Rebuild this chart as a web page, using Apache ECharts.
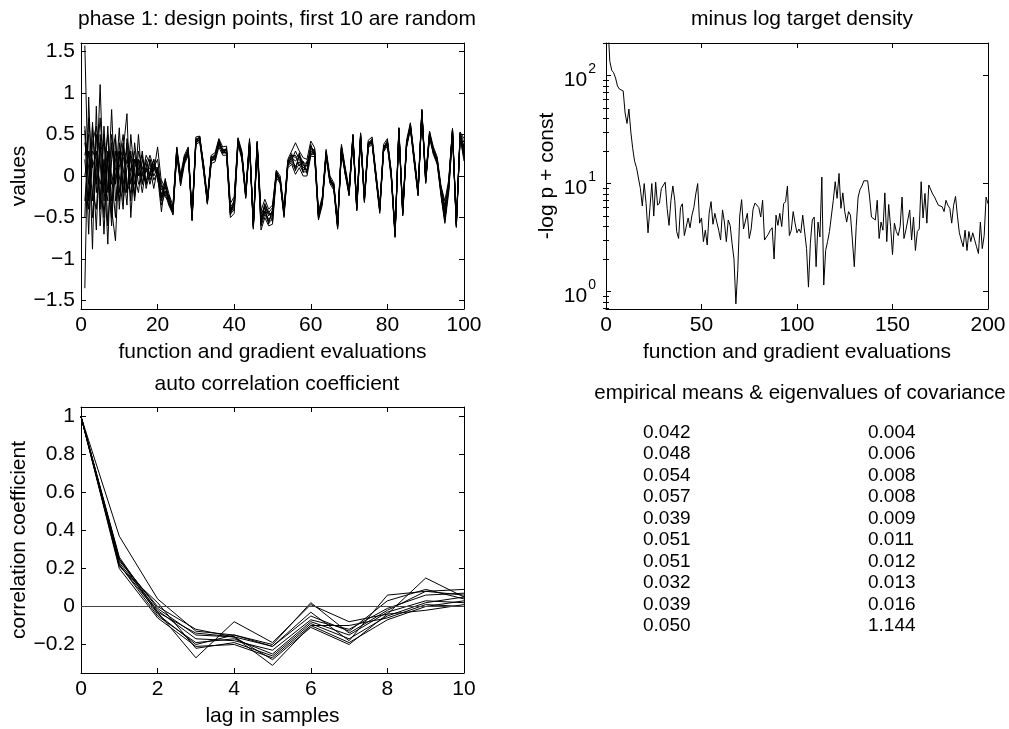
<!DOCTYPE html>
<html><head><meta charset="utf-8">
<script src="https://cdn.jsdelivr.net/npm/echarts@6/dist/echarts.min.js"></script>
<style>html,body{margin:0;padding:0;background:#fff}#c{width:1009px;height:729px}</style>
</head><body><div id="c"></div>
<script>
// ---------- DATA ----------
// Panel 1: design points (10 dimensions) over evaluations 1..100
const design1 = [1.57,-0.3,0.6,-0.2,0.4,-0.5,0.3,-0.1,0.2,0.3,-0.2,0.4,-0.1,0.2,0.0,0.1,0.15,-0.05,0.1,0.2,
-0.17,-0.12,-0.28,-0.40,0.33,-0.03,0.22,0.32,-0.48,0.44,0.47,0.12,-0.28,0.22,0.24,0.42,0.32,0.32,-0.38,-0.30,
0.44,0.27,-0.21,0.42,-0.58,0.40,-0.50,-0.33,-0.44,-0.38,0.05,-0.03,-0.43,0.17,0.25,0.22,0.26,0.16,0.15,0.35,
0.30,-0.46,-0.28,0.29,-0.03,-0.10,-0.58,0.35,0.07,-0.18,0.49,-0.36,0.50,-0.26,0.40,0.44,0.02,-0.38,0.35,0.42,
0.04,-0.68,0.57,-0.42,0.40,0.62,0.22,-0.18,0.79,-0.03,0.52,0.32,0.20,-0.15,-0.38,-0.08,0.56,-0.56,0.52,0.40];
const design2 = [-1.35,0.95,-0.3,0.5,-0.4,0.6,-0.2,0.8,-0.3,0.1,0.4,-0.2,0.3,-0.1,0.2,0.05,-0.1,0.2,0.0,0.1,
-0.25,-0.18,-0.33,-0.44,0.27,-0.08,0.17,0.28,-0.52,0.40,0.43,0.08,-0.32,0.18,0.20,0.38,0.28,0.28,-0.46,-0.40,
0.40,0.23,-0.25,0.38,-0.62,0.36,-0.60,-0.46,-0.56,-0.52,0.01,-0.07,-0.47,0.13,0.16,0.08,0.14,0.05,0.05,0.26,
0.26,-0.50,-0.32,0.25,-0.07,-0.14,-0.62,0.31,0.03,-0.22,0.45,-0.40,0.46,-0.30,0.36,0.40,-0.02,-0.42,0.31,0.38,
0.00,-0.72,0.53,-0.46,0.36,0.58,0.18,-0.22,0.75,-0.07,0.48,0.28,0.16,-0.21,-0.52,-0.16,0.52,-0.60,0.48,0.22];
const design3 = [0.55,-0.7,0.65,-0.1,1.1,-0.3,0.2,-0.5,0.45,-0.2,0.3,0.75,-0.5,0.2,0.1,-0.2,0.1,0.25,0.1,0.0,
-0.43,-0.05,-0.22,-0.36,0.35,0.02,0.25,0.35,-0.45,0.47,0.48,0.15,-0.25,0.25,0.28,0.45,0.35,0.36,-0.33,-0.25,
0.46,0.30,-0.18,0.45,-0.55,0.42,-0.42,-0.28,-0.40,-0.35,0.07,0.00,-0.40,0.20,0.30,0.40,0.30,0.22,0.20,0.42,
0.34,-0.42,-0.25,0.32,0.00,-0.08,-0.55,0.38,0.10,-0.15,0.50,-0.33,0.52,-0.23,0.43,0.47,0.05,-0.35,0.38,0.45,
0.06,-0.66,0.58,-0.40,0.43,0.64,0.25,-0.15,0.80,0.00,0.54,0.35,0.23,-0.12,-0.30,-0.05,0.57,-0.54,0.53,0.45];
const design4 = [0.25,0.5,-0.88,0.84,-0.6,0.2,-0.82,0.4,-0.1,0.58,-0.3,0.1,0.2,-0.25,0.3,0.1,-0.05,0.0,0.15,0.05,
-0.12,-0.22,-0.36,-0.46,0.25,-0.12,0.14,0.25,-0.54,0.38,0.41,0.05,-0.34,0.15,0.17,0.35,0.25,0.25,-0.50,-0.45,
0.38,0.20,-0.27,0.36,-0.64,0.33,-0.65,-0.50,-0.60,-0.58,-0.02,-0.09,-0.50,0.10,0.14,0.02,0.10,0.00,0.00,0.24,
0.23,-0.53,-0.35,0.22,-0.09,-0.17,-0.64,0.29,0.01,-0.24,0.43,-0.42,0.44,-0.32,0.34,0.38,-0.04,-0.45,0.29,0.36,
-0.03,-0.74,0.51,-0.48,0.34,0.56,0.15,-0.24,0.73,-0.09,0.46,0.26,0.14,-0.24,-0.57,-0.20,0.50,-0.62,0.46,0.18];
const design5 = [-0.3,0.3,0.2,-0.65,0.5,-0.2,0.6,-0.4,-0.78,0.3,0.1,-0.35,0.5,0.0,-0.2,0.2,0.05,0.1,-0.15,0.1,
-0.30,-0.10,-0.26,-0.41,0.31,-0.04,0.21,0.31,-0.49,0.43,0.46,0.11,-0.29,0.21,0.23,0.41,0.31,0.31,-0.40,-0.33,
0.43,0.26,-0.22,0.41,-0.59,0.39,-0.53,-0.37,-0.48,-0.42,0.04,-0.04,-0.44,0.16,0.22,0.18,0.23,0.13,0.12,0.32,
0.29,-0.47,-0.29,0.28,-0.04,-0.11,-0.59,0.34,0.06,-0.19,0.48,-0.37,0.49,-0.27,0.39,0.43,0.01,-0.39,0.34,0.41,
0.03,-0.69,0.56,-0.43,0.39,0.61,0.21,-0.19,0.78,-0.04,0.51,0.31,0.19,-0.17,-0.42,-0.10,0.55,-0.57,0.51,0.33];
const design6 = [-0.5,0.7,0.1,0.3,-0.3,0.5,-0.6,0.2,0.5,-0.4,0.2,0.3,-0.3,0.4,0.0,0.3,-0.1,0.2,0.05,0.35,
-0.08,-0.25,-0.31,-0.43,0.29,-0.06,0.19,0.29,-0.51,0.41,0.44,0.09,-0.31,0.19,0.21,0.39,0.29,0.29,-0.44,-0.37,
0.41,0.24,-0.24,0.39,-0.61,0.37,-0.57,-0.43,-0.52,-0.48,0.02,-0.06,-0.46,0.14,0.18,0.12,0.17,0.08,0.08,0.28,
0.27,-0.49,-0.31,0.26,-0.06,-0.13,-0.61,0.32,0.04,-0.21,0.46,-0.39,0.47,-0.29,0.37,0.41,-0.01,-0.41,0.32,0.39,
0.01,-0.71,0.54,-0.45,0.37,0.59,0.19,-0.21,0.76,-0.06,0.49,0.29,0.17,-0.19,-0.48,-0.14,0.53,-0.59,0.49,0.27];
const design7 = [0.2,-0.4,0.4,0.6,0.2,-0.7,0.3,0.0,-0.5,0.4,-0.1,0.2,0.0,-0.2,0.5,-0.1,0.2,0.0,0.2,-0.05,
-0.22,-0.08,-0.35,-0.38,0.34,-0.10,0.24,0.27,-0.47,0.45,0.42,0.14,-0.33,0.24,0.19,0.44,0.27,0.34,-0.47,-0.28,
0.45,0.22,-0.20,0.37,-0.57,0.41,-0.48,-0.45,-0.42,-0.55,0.06,-0.08,-0.42,0.18,0.27,0.06,0.28,0.04,0.18,0.25,
0.32,-0.45,-0.33,0.30,-0.08,-0.09,-0.63,0.36,0.02,-0.17,0.44,-0.35,0.51,-0.31,0.41,0.39,0.03,-0.43,0.36,0.37,
0.05,-0.73,0.52,-0.41,0.35,0.63,0.17,-0.17,0.74,-0.02,0.47,0.33,0.15,-0.14,-0.35,-0.18,0.51,-0.55,0.47,0.36];
const design8 = [0.0,0.3,-0.5,0.1,0.7,0.0,-0.3,0.5,0.1,-0.3,0.35,-0.2,0.1,0.3,-0.1,0.0,0.25,0.15,-0.05,0.05,
-0.35,-0.20,-0.24,-0.47,0.26,0.00,0.16,0.33,-0.53,0.39,0.48,0.07,-0.27,0.17,0.26,0.37,0.33,0.26,-0.37,-0.42,
0.39,0.28,-0.26,0.43,-0.63,0.35,-0.45,-0.38,-0.58,-0.40,0.00,-0.02,-0.48,0.12,0.24,0.25,0.12,0.18,0.03,0.38,
0.24,-0.51,-0.27,0.24,-0.02,-0.15,-0.57,0.30,0.08,-0.23,0.50,-0.41,0.45,-0.25,0.35,0.45,-0.03,-0.37,0.30,0.43,
-0.01,-0.67,0.58,-0.47,0.41,0.57,0.23,-0.23,0.80,-0.08,0.53,0.27,0.21,-0.22,-0.55,-0.09,0.57,-0.61,0.52,0.25];
const design9 = [0.4,0.1,-0.2,-0.4,0.3,0.4,0.1,-0.6,0.3,0.0,-0.4,0.45,0.2,-0.3,0.15,0.25,-0.15,0.05,0.2,0.0,
-0.05,-0.14,-0.29,-0.40,0.32,-0.07,0.23,0.30,-0.50,0.44,0.45,0.10,-0.30,0.22,0.22,0.40,0.30,0.31,-0.41,-0.35,
0.42,0.25,-0.23,0.40,-0.60,0.38,-0.58,-0.35,-0.46,-0.47,0.03,-0.05,-0.45,0.15,0.19,0.30,0.20,0.10,0.13,0.30,
0.28,-0.48,-0.30,0.27,-0.05,-0.12,-0.60,0.33,0.05,-0.20,0.47,-0.38,0.48,-0.28,0.38,0.42,0.00,-0.40,0.33,0.40,
0.02,-0.70,0.55,-0.44,0.38,0.60,0.20,-0.20,0.77,-0.05,0.50,0.30,0.18,-0.18,-0.45,-0.12,0.54,-0.58,0.50,0.30];
const design10 = [0.6,-0.1,0.3,0.2,-0.1,0.1,0.5,-0.3,0.0,0.2,0.5,-0.1,-0.2,0.1,0.2,-0.1,0.1,-0.1,0.1,0.1,
-0.28,-0.03,-0.34,-0.45,0.28,-0.02,0.18,0.26,-0.46,0.40,0.44,0.13,-0.32,0.23,0.25,0.43,0.28,0.28,-0.45,-0.32,
0.40,0.24,-0.22,0.38,-0.58,0.36,-0.52,-0.42,-0.54,-0.43,0.04,-0.06,-0.44,0.16,0.21,0.10,0.24,0.14,0.06,0.33,
0.31,-0.46,-0.31,0.26,-0.04,-0.13,-0.59,0.34,0.06,-0.19,0.46,-0.37,0.47,-0.27,0.39,0.41,0.01,-0.39,0.32,0.41,
0.03,-0.69,0.54,-0.43,0.37,0.59,0.21,-0.21,0.76,-0.04,0.49,0.31,0.19,-0.16,-0.40,-0.11,0.55,-0.57,0.49,0.35];

// Panel 2: minus log target density over evaluations 1..200
const minusLogP = [300,135,112,106,95,80,75,73,72,45,36,49,30,21,16,14,13.5,9,6.2,10,
6.5,3.5,6,10,5,10.3,6.3,6.6,9,9.3,10.3,5.9,4.1,7,9.5,7,3.6,3.1,6,6.5,
3.3,3.2,4.8,3.9,5.1,6,8,10,4.3,4.8,2.9,3.7,2.7,5.3,6.8,4.2,5.3,4.4,3.7,3.0,
5.7,4.4,2.9,4.6,4.1,2.8,2.0,0.77,1.6,5,7.1,3.8,3.7,5.3,3.1,3.8,5.8,6.6,6.4,6.0,
4.9,7.0,3.0,3.2,3.4,3.7,3.9,2.0,5.1,4.1,5.3,4.0,6.5,6.8,9.5,3.3,3.7,5.5,4.3,3.5,
3.8,3.5,5.1,5.3,2.5,1.1,2.8,4.6,4.9,1.7,4.4,3.2,11.5,1.15,2.4,2.9,3.6,3.5,7,10.4,
7.3,12.4,5.9,8.2,5.5,4.4,5.5,5.1,3.0,1.7,4,7.5,8.8,9.5,10.6,10.8,10.6,7.5,4.9,4.8,
4.6,7.0,3.1,4.4,3.7,8.2,2.9,6.4,4.0,2.2,4.3,3.6,3.3,4.0,7.5,3.1,3.7,3.6,5.7,3.0,
4.9,2.4,3.6,3.8,10.4,4.8,8.1,4.3,9.7,9.3,8,7.5,7.3,6.3,6.1,6.1,5.5,7.0,6.3,5.9,
4.3,6.3,7.6,5,3.5,3.0,2.6,3.7,2.4,3.6,2.9,3.5,3.6,2.6,2.25,4.4,2.5,3.3,7.5,6.5];

// Panel 3: auto correlation coefficient, lags 0..10
const lags = [0,1,2,3,4,5,6,7,8,9,10];
const acf1 = [1,0.37,0.04,-0.13,-0.15,-0.20,0.02,-0.14,-0.02,0.08,0.09];
const acf2 = [1,0.26,-0.03,-0.27,-0.08,-0.19,0.01,-0.08,-0.04,0.15,0.05];
const acf3 = [1,0.25,-0.04,-0.20,-0.15,-0.21,-0.03,-0.18,0.06,0.08,0.06];
const acf4 = [1,0.24,0.00,-0.12,-0.16,-0.21,-0.05,-0.13,0.03,0.09,0.04];
const acf5 = [1,0.23,-0.02,-0.17,-0.18,-0.23,-0.07,-0.12,-0.01,0.06,0.07];
const acf6 = [1,0.22,-0.05,-0.19,-0.17,-0.25,-0.08,-0.15,-0.03,0.03,0.02];
const acf7 = [1,0.21,0.02,-0.22,-0.19,-0.26,-0.09,-0.17,-0.05,0.02,0.05];
const acf8 = [1,0.20,-0.06,-0.21,-0.20,-0.27,-0.10,-0.19,-0.07,0.00,0.03];
const acf9 = [1,0.25,-0.01,-0.15,-0.16,-0.28,-0.11,-0.20,-0.04,-0.02,0.01];
const acf10 = [1,0.22,-0.03,-0.14,-0.16,-0.31,-0.10,-0.10,-0.06,0.01,0.00];

// Panel 4: empirical means & eigenvalues of covariance
const empiricalMeans = ['0.042','0.048','0.054','0.057','0.039','0.051','0.051','0.032','0.039','0.050'];
const covEigenvalues = ['0.004','0.006','0.008','0.008','0.009','0.011','0.012','0.013','0.016','1.144'];

// tick labels
const ticksY1 = [-1.5,-1,-0.5,0,0.5,1,1.5];
const ticksY2Major = [1,10,100];
const ticksY2Minor = [0.7,0.8,0.9,2,3,4,5,6,7,8,9,20,30,40,50,60,70,80,90,200];
const ticksY3 = [-0.2,0,0.2,0.4,0.6,0.8,1];

// ---------- CHART ----------
const FONT = 'Liberation Sans, Arial, Helvetica, sans-serif';
const FS = 21;
const chart = echarts.init(document.getElementById('c'), null, {renderer:'canvas'});
const fmt = v => String(v).replace('-', '\u2212');
const grids = [
  {left:81, top:43, width:383, height:266},
  {left:606, top:43, width:382, height:266},
  {left:81, top:407, width:383, height:266}
];
function baseAxis(extra) {
  return Object.assign({
    axisLine:{show:true, onZero:false, lineStyle:{color:'#000', width:1}},
    axisTick:{show:true, inside:true, length:5, lineStyle:{color:'#000', width:1}},
    splitLine:{show:false},
    axisLabel:{show:true, color:'#000', fontSize:FS, fontFamily:FONT, margin:6},
    nameTextStyle:{color:'#000', fontSize:FS, fontFamily:FONT}
  }, extra);
}
function hideLabel(ax){ ax.axisLabel = Object.assign({}, ax.axisLabel, {show:false}); return ax; }

const xAxes = [
  baseAxis({gridIndex:0, type:'value', position:'bottom', min:0, max:100, interval:20,
    name:'function and gradient evaluations', nameLocation:'middle', nameGap:33}),
  hideLabel(baseAxis({gridIndex:0, type:'value', position:'top', min:0, max:100, interval:20})),
  baseAxis({gridIndex:1, type:'value', position:'bottom', min:0, max:200, interval:50,
    name:'function and gradient evaluations', nameLocation:'middle', nameGap:33}),
  hideLabel(baseAxis({gridIndex:1, type:'value', position:'top', min:0, max:200, interval:50})),
  baseAxis({gridIndex:2, type:'value', position:'bottom', min:0, max:10, interval:2,
    name:'lag in samples', nameLocation:'middle', nameGap:33}),
  hideLabel(baseAxis({gridIndex:2, type:'value', position:'top', min:0, max:10, interval:2}))
];

const y1 = baseAxis({gridIndex:0, type:'value', position:'left', min:-1.6, max:1.6,
  name:'values', nameLocation:'middle', nameGap:50});
y1.axisTick.customValues = ticksY1; y1.axisLabel.customValues = ticksY1; y1.axisLabel.formatter = fmt;
const y1r = hideLabel(baseAxis({gridIndex:0, type:'value', position:'right', min:-1.6, max:1.6}));
y1r.axisTick.customValues = ticksY1;

const logBase = {type:'log', logBase:10, min:0.69, max:200};
const y2 = baseAxis(Object.assign({gridIndex:1, position:'left', name:'-log p + const', nameLocation:'middle', nameGap:48}, logBase));
y2.axisTick.customValues = ticksY2Major;
y2.axisLabel.customValues = ticksY2Major;
y2.axisLabel.margin = 10;
y2.axisLabel.formatter = v => '{b|10}{s|' + Math.round(Math.log10(v)) + '}';
y2.axisLabel.rich = {
  b:{fontSize:FS, fontFamily:FONT, color:'#000', lineHeight:30, verticalAlign:'bottom'},
  s:{fontSize:14, fontFamily:FONT, color:'#000', lineHeight:30, verticalAlign:'top', padding:[2,0,0,1]}
};
const y2r = hideLabel(baseAxis(Object.assign({gridIndex:1, position:'right'}, logBase)));
y2r.axisTick.customValues = ticksY2Major;
const y2m = hideLabel(baseAxis(Object.assign({gridIndex:1, position:'left'}, logBase)));
y2m.axisLine = {show:false}; y2m.axisTick.length = 3; y2m.axisTick.customValues = ticksY2Minor;
const y2mr = hideLabel(baseAxis(Object.assign({gridIndex:1, position:'right'}, logBase)));
y2mr.axisLine = {show:false}; y2mr.axisTick.length = 3; y2mr.axisTick.customValues = ticksY2Minor;

const y3 = baseAxis({gridIndex:2, type:'value', position:'left', min:-0.35, max:1.05,
  name:'correlation coefficient', nameLocation:'middle', nameGap:50});
y3.axisTick.customValues = ticksY3; y3.axisLabel.customValues = ticksY3; y3.axisLabel.formatter = fmt;
const y3r = hideLabel(baseAxis({gridIndex:2, type:'value', position:'right', min:-0.35, max:1.05}));
y3r.axisTick.customValues = ticksY3;

const yAxes = [y1, y1r, y2, y2r, y2m, y2mr, y3, y3r];

const lineStyle = {color:'#000', width:1};
const series = [];
[design1,design2,design3,design4,design5,design6,design7,design8,design9,design10].forEach((arr, k) => {
  series.push({type:'line', xAxisIndex:0, yAxisIndex:0, symbol:'none', lineStyle, itemStyle:{color:'#000'},
    data: arr.map((v,i) => [i+1, v]), silent:true});
});
series.push({type:'line', xAxisIndex:2, yAxisIndex:2, symbol:'none', lineStyle, itemStyle:{color:'#000'},
  data: minusLogP.map((v,i) => [i+1, v]), silent:true, clip:true});
[acf1,acf2,acf3,acf4,acf5,acf6,acf7,acf8,acf9,acf10].forEach((arr, k) => {
  const s = {type:'line', xAxisIndex:4, yAxisIndex:6, symbol:'none', lineStyle, itemStyle:{color:'#000'},
    data: arr.map((v,i) => [lags[i], v]), silent:true};
  if (k === 0) s.markLine = {silent:true, symbol:'none', label:{show:false},
    lineStyle:{color:'#444', width:1, type:'solid'}, data:[{yAxis:0}]};
  series.push(s);
});

const titleStyle = {color:'#000', fontSize:FS, fontWeight:'normal', fontFamily:FONT};
const titles = [
  {text:'phase 1: design points, first 10 are random', left:272, top:4, textAlign:'center', textStyle:titleStyle},
  {text:'minus log target density', left:797, top:4, textAlign:'center', textStyle:titleStyle},
  {text:'auto correlation coefficient', left:272, top:369, textAlign:'center', textStyle:titleStyle},
  {text:'empirical means & eigenvalues of covariance', left:795, top:378, textAlign:'center',
    textStyle:Object.assign({}, titleStyle, {fontSize:20.5})}
];

const graphic = [];
empiricalMeans.forEach((m, i) => {
  graphic.push({type:'text', left:643, top:423 + i*21.5, style:{text:m, fill:'#000', font: '19px ' + FONT}});
  graphic.push({type:'text', left:868, top:423 + i*21.5, style:{text:covEigenvalues[i], fill:'#000', font: '19px ' + FONT}});
});

chart.setOption({
  animation:false,
  backgroundColor:'#fff',
  title: titles,
  grid: grids,
  xAxis: xAxes,
  yAxis: yAxes,
  series: series,
  graphic: graphic
});
</script>
</body></html>
